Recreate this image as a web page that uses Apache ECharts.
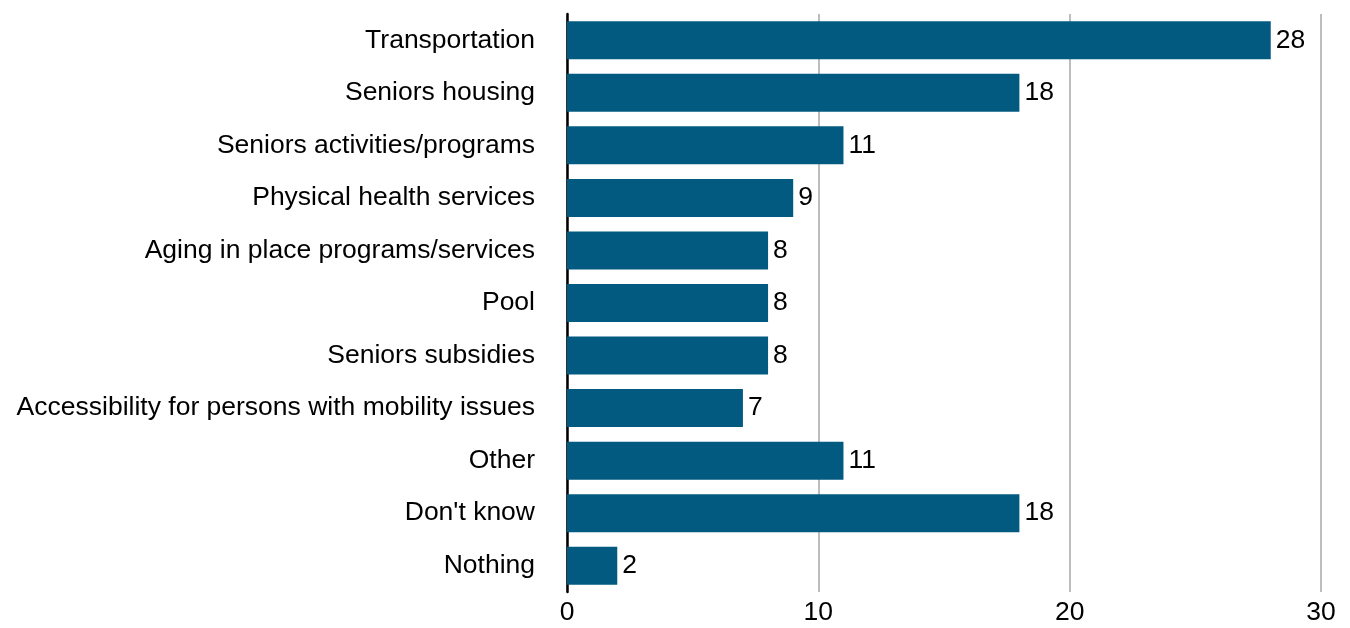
<!DOCTYPE html>
<html>
<head>
<meta charset="utf-8">
<script src="https://cdn.jsdelivr.net/npm/echarts@6/dist/echarts.min.js"></script>
<style>
  html, body { margin: 0; padding: 0; background: #fff; }
  #chart { width: 1350px; height: 628px; }
</style>
</head>
<body>
<div id="chart"></div>
<script>
const categories = [
  "Transportation",
  "Seniors housing",
  "Seniors activities/programs",
  "Physical health services",
  "Aging in place programs/services",
  "Pool",
  "Seniors subsidies",
  "Accessibility for persons with mobility issues",
  "Other",
  "Don't know",
  "Nothing"
];
const values = [28, 18, 11, 9, 8, 8, 8, 7, 11, 18, 2];
const xTicks = [0, 10, 20, 30];

const font = "'Liberation Sans', Arial, sans-serif";
const chart = echarts.init(document.getElementById('chart'));
chart.setOption({
  animation: false,
  grid: { left: 567, right: 29, top: 14, bottom: 36, containLabel: false },
  xAxis: {
    type: 'value',
    min: xTicks[0],
    max: xTicks[xTicks.length - 1],
    interval: 10,
    axisLine: { show: false },
    axisTick: { show: false },
    splitLine: { show: true, lineStyle: { color: '#bdbdbd', width: 2 } },
    axisLabel: { color: '#000', fontFamily: font, fontSize: 26.5, margin: 7 }
  },
  yAxis: {
    type: 'category',
    inverse: true,
    data: categories,
    axisLine: { show: true, lineStyle: { color: '#000', width: 2.5 } },
    axisTick: { show: false },
    axisLabel: { color: '#000', fontFamily: font, fontSize: 26.5, margin: 32 }
  },
  series: [{
    type: 'bar',
    data: values,
    barWidth: 38,
    itemStyle: { color: '#025a80' },
    label: {
      show: true,
      position: 'right',
      distance: 5,
      color: '#000',
      fontFamily: font,
      fontSize: 26.5
    }
  }]
});
</script>
</body>
</html>
